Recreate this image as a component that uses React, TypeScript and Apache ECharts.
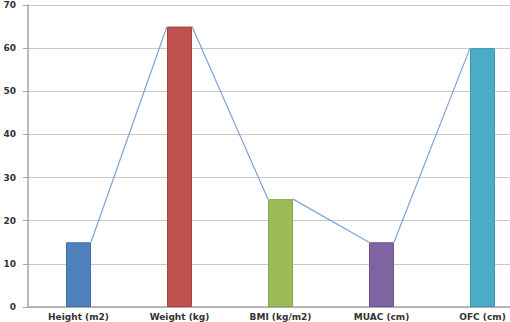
import React, { useEffect, useRef } from "react";
import * as echarts from "echarts";

const categories = ["Height (m2)", "Weight (kg)", "BMI (kg/m2)", "MUAC (cm)", "OFC (cm)"];
const values = [15, 65, 25, 15, 60];
const barColors = ["#4F81BD", "#C0504D", "#9BBB59", "#8064A2", "#4BACC6"];
const borderColors = ["#3f6fa8", "#a8403d", "#86a648", "#6d5290", "#3a98b2"];
const yTicks = [0, 10, 20, 30, 40, 50, 60, 70];

const BAR_W = 25;

export default function App() {
  const ref = useRef<HTMLDivElement>(null);
  useEffect(() => {
    if (!ref.current) return;
    const chart = echarts.init(ref.current, null, { renderer: "svg" });
    const font = "DejaVu Sans";
    chart.setOption({
      animation: false,
      backgroundColor: "#ffffff",
      grid: { left: 28, right: 0, top: 5, bottom: 15, containLabel: false },
      xAxis: {
        type: "category",
        data: categories,
        axisLine: { lineStyle: { color: "#a6a6a6", width: 1.5 } },
        axisTick: { show: false },
        axisLabel: {
          color: "#333333",
          fontFamily: font,
          fontSize: 9,
          fontWeight: "bold",
          margin: 5,
          interval: 0,
        },
      },
      yAxis: {
        type: "value",
        min: yTicks[0],
        max: yTicks[yTicks.length - 1],
        interval: 10,
        axisLine: { show: true, lineStyle: { color: "#a6a6a6", width: 1.5 } },
        axisTick: { show: true, length: 5, lineStyle: { color: "#a6a6a6" } },
        splitLine: { lineStyle: { color: "#c8c8c8", width: 1.2 } },
        axisLabel: {
          color: "#333333",
          fontFamily: font,
          fontSize: 9,
          fontWeight: "bold",
          margin: 12,
        },
      },
      series: [
        {
          type: "bar",
          barWidth: BAR_W,
          data: values.map((v, i) => ({
            value: v,
            itemStyle: { color: barColors[i], borderColor: borderColors[i], borderWidth: 1 },
          })),
          z: 2,
        },
        {
          type: "custom",
          z: 3,
          data: values.map((v, i) => [i, v]),
          renderItem: (params: any, api: any) => {
            const i = params.dataIndex;
            if (i >= values.length - 1) return null;
            const p1 = api.coord([i, values[i]]);
            const p2 = api.coord([i + 1, values[i + 1]]);
            return {
              type: "line",
              shape: { x1: p1[0] + BAR_W / 2, y1: p1[1], x2: p2[0] - BAR_W / 2, y2: p2[1] },
              style: { stroke: "#7ea3d6", lineWidth: 1.2 },
            };
          },
        },
      ],
    });
    return () => chart.dispose();
  }, []);
  return (
    <div style={{ width: 510, height: 322, position: "absolute", left: 0, top: 0, overflow: "hidden" }}>
      <div ref={ref} style={{ width: 533, height: 322 }} />
    </div>
  );
}
